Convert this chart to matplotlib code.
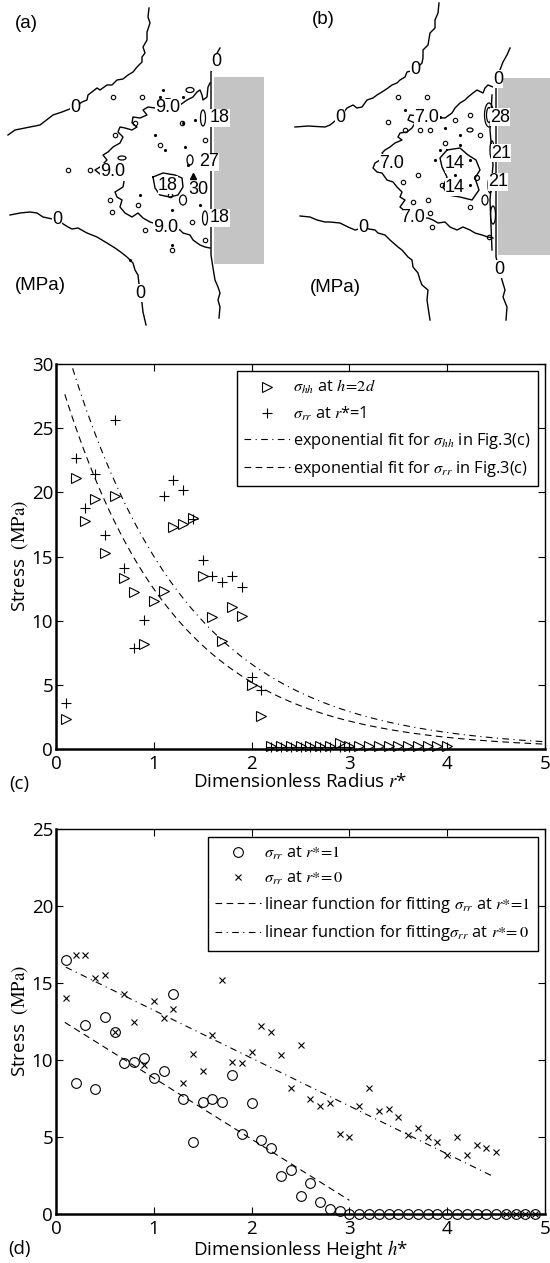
import matplotlib.pyplot as plt
from matplotlib.patches import Rectangle, Ellipse
import numpy as np

plt.rcParams['font.family'] = ['Open Sans', 'DejaVu Sans']
plt.rcParams['mathtext.fontset'] = 'stix'

# ---------------- (a) / (b) contour maps, traced in pixel units ----------------
a_zero_upper = [(8, 135), (15, 130), (30, 127), (40, 125), (53, 115), (62, 112), (75, 107), (82, 102),
                (87, 100), (88, 95), (97, 88), (100, 90), (107, 85), (112, 85), (117, 80), (123, 79),
                (128, 75), (133, 72), (137, 67), (142, 62), (142, 57), (145, 53), (143, 47), (147, 40),
                (147, 32), (150, 23), (148, 17), (149, 8)]
a_zero_lower = [(10, 215), (20, 213), (30, 212), (37, 213), (43, 217), (57, 220), (68, 227), (72, 229),
                (78, 228), (87, 233), (97, 237), (107, 243), (115, 248), (122, 253), (127, 257),
                (133, 263), (135, 270), (138, 275), (140, 293), (142, 303), (143, 312), (146, 325)]
a_wall = [(220, 48), (216, 55), (213, 67), (211, 72), (211, 255), (213, 268), (215, 280), (218, 287),
          (220, 293), (218, 300), (220, 307), (219, 318)]
a_c9 = [(210, 83), (208, 87), (207, 97), (203, 100), (202, 95), (200, 90), (197, 92), (193, 97),
        (187, 100), (180, 105), (168, 108), (155, 108), (148, 107), (143, 110), (147, 115), (140, 118),
        (133, 117), (132, 123), (137, 127), (132, 130), (125, 128), (120, 127), (118, 132), (123, 137),
        (120, 143), (113, 147), (108, 152), (103, 155), (107, 160), (100, 167), (95, 170), (100, 174),
        (113, 172), (125, 176), (123, 187), (115, 192), (117, 197), (122, 200), (120, 207), (125, 213),
        (132, 217), (138, 213), (143, 218), (150, 222), (166, 227), (180, 230), (183, 233), (190, 235),
        (193, 240), (200, 245), (205, 247), (210, 248)]
a_c18 = [(153, 177), (163, 173), (175, 175), (182, 178), (183, 187), (178, 195), (170, 197),
         (160, 195), (155, 188), (153, 177)]
a_ellipses = [(203, 118, 5, 16), (205, 218, 5, 14), (190, 160, 6, 10), (183, 200, 7, 10),
              (168, 100, 6, 3), (190, 90, 8, 5), (122, 158, 8, 4)]
a_isl_x = [113, 142, 135, 115, 205, 110, 138, 192, 145, 170, 68, 90, 172, 205, 182, 160, 112]
a_isl_y = [97, 97, 123, 135, 140, 200, 205, 222, 230, 195, 170, 170, 250, 240, 123, 145, 212]
a_dot_x = [163, 155, 165, 183, 185, 195, 160, 183, 172, 188, 140, 200, 130, 200, 172]
a_dot_y = [90, 135, 150, 123, 147, 120, 97, 97, 245, 165, 195, 205, 260, 188, 210]
a_labels = ['0', '0', '0', '0', '9.0', '9.0', '9.0', '18', '18', '18', '27', '30']
a_lab_x = [75, 57, 140, 216, 168, 113, 166, 220, 220, 168, 209, 198]
a_lab_y = [107, 220, 293, 62, 108, 172, 227, 118, 218, 185, 162, 190]
a_gray = (214, 77, 264, 264)

b_zero_upper = [(295, 127), (308, 126), (325, 127), (330, 125), (340, 117), (347, 108), (353, 105),
                (357, 108), (362, 107), (367, 100), (373, 98), (377, 95), (382, 92), (388, 88),
                (392, 85), (397, 83), (400, 80), (405, 77), (407, 72), (415, 70), (422, 63), (423, 58),
                (423, 50), (428, 45), (430, 33), (435, 28), (435, 20), (438, 13), (439, 3)]
b_zero_lower = [(300, 216), (310, 217), (317, 220), (325, 222), (330, 222), (340, 223), (348, 227),
                (355, 230), (363, 228), (375, 230), (378, 233), (385, 235), (390, 240), (398, 247),
                (402, 250), (408, 257), (412, 260), (413, 267), (418, 273), (420, 280), (422, 285),
                (428, 290), (427, 300), (428, 307), (430, 320)]
b_wall = [(510, 48), (507, 55), (503, 62), (498, 75), (496, 83), (496, 257), (499, 269), (502, 280),
          (505, 290), (503, 297), (507, 307), (506, 320)]
b_wall2 = [(492, 95), (490, 130), (493, 165), (490, 200), (492, 250)]
b_c7 = [(493, 87), (488, 85), (485, 88), (483, 93), (477, 90), (473, 93), (468, 97), (465, 100),
        (460, 103), (455, 108), (452, 113), (445, 118), (427, 117), (410, 115), (408, 120), (415, 123),
        (412, 128), (407, 132), (400, 133), (398, 137), (402, 140), (395, 143), (390, 147), (385, 150),
        (382, 153), (385, 157), (380, 160), (375, 163), (373, 168), (377, 172), (382, 173), (387, 180),
        (393, 182), (397, 187), (402, 192), (400, 197), (405, 200), (400, 207), (413, 218), (428, 218),
        (433, 220), (438, 223), (445, 222), (450, 227), (457, 230), (463, 227), (470, 230), (475, 233),
        (482, 235), (488, 237), (493, 238)]
b_c14 = [(447, 150), (460, 148), (468, 155), (476, 160), (480, 170), (475, 178), (479, 190),
         (472, 200), (460, 197), (448, 195), (443, 187), (447, 177), (442, 167), (440, 158), (447, 150)]
b_ellipses = [(489, 115, 9, 24), (489, 115, 5, 15), (492, 150, 4, 18), (490, 185, 4, 16),
              (493, 215, 5, 18), (477, 178, 5, 5), (470, 130, 6, 4), (485, 200, 6, 10)]
b_isl_x = [398, 427, 388, 405, 420, 430, 455, 470, 480, 445, 418, 403, 413, 428, 430, 432, 489, 442, 470]
b_isl_y = [97, 97, 122, 130, 130, 130, 120, 115, 135, 143, 175, 182, 202, 200, 213, 227, 237, 185, 207]
b_dot_x = [405, 415, 430, 440, 445, 460, 440, 460, 470, 455, 470, 435]
b_dot_y = [110, 110, 112, 117, 128, 135, 150, 145, 160, 175, 185, 160]
b_labels = ['0', '0', '0', '0', '0', '7.0', '7.0', '7.0', '14', '14', '28', '21', '21']
b_lab_x = [340, 415, 363, 498, 499, 427, 392, 413, 455, 455, 500, 501, 498]
b_lab_y = [117, 70, 228, 79, 269, 117, 163, 218, 164, 187, 117, 153, 182]
b_gray = (498, 78, 552, 255)

# ---------------- (c) data ----------------
r_hh = [0.1, 0.2, 0.3, 0.4, 0.5, 0.6, 0.7, 0.8, 0.9, 1.0, 1.1, 1.2, 1.3, 1.4, 1.5, 1.6, 1.7, 1.8,
        1.9, 2.0, 2.1, 2.2, 2.3, 2.4, 2.5, 2.6, 2.7, 2.8, 2.9, 3.0, 3.1, 3.2, 3.3, 3.4, 3.5, 3.6,
        3.7, 3.8, 3.9, 4.0]
s_hh = [2.3, 21.1, 17.8, 19.5, 15.3, 19.7, 13.3, 12.2, 8.2, 11.5, 12.3, 17.3, 17.5, 18.0, 13.5,
        10.3, 8.4, 11.1, 10.4, 5.0, 2.6, 0.2, 0.2, 0.2, 0.2, 0.2, 0.2, 0.2, 0.5, 0.2, 0.2, 0.2,
        0.2, 0.2, 0.2, 0.2, 0.2, 0.2, 0.2, 0.2]
r_rr = [0.1, 0.2, 0.3, 0.4, 0.5, 0.6, 0.7, 0.8, 0.9, 1.1, 1.2, 1.3, 1.4, 1.5, 1.6, 1.7, 1.8, 1.9,
        2.0, 2.1, 2.2, 2.3, 2.4, 2.5, 2.6, 2.7, 2.8, 2.9, 3.0]
s_rr = [3.6, 22.7, 18.8, 21.4, 16.7, 25.6, 14.1, 7.85, 10.05, 19.7, 21.0, 20.2, 17.9, 14.7, 13.5,
        13.0, 13.5, 12.6, 5.6, 4.6, 0.15, 0.15, 0.15, 0.15, 0.15, 0.15, 0.15, 0.15, 0.15]
exp_hh = (34.1, 0.82, 0.17)   # A, b, start of fit curve
exp_rr = (29.9, 0.874, 0.09)

# ---------------- (d) data ----------------
h_star = [round(0.1 * i, 1) for i in range(1, 50)]
s_r1 = [16.5, 8.5, 12.3, 8.1, 12.8, 11.8, 9.8, 9.9, 10.1, 8.8, 9.3, 14.3, 7.5, 4.7, 7.3, 7.5, 7.3,
        9.0, 5.2, 7.2, 4.8, 4.3, 2.5, 2.85, 1.2, 2.0, 0.76, 0.3, 0.2] + [0.0] * 20
s_r0 = [14.0, 16.8, 16.8, 15.3, 15.5, 11.8, 14.3, 12.5, 9.7, 13.8,
        12.7, 13.3, 8.5, 10.4, 9.3, 11.6, 15.2, 9.9, 9.8, 10.5,
        12.2, 11.8, 10.3, 8.2, 11.0, 7.5, 7.0, 7.2, 5.2, 5.0,
        7.0, 8.2, 6.7, 6.8, 6.3, 5.1, 5.6, 5.0, 4.7, 3.8,
        5.0, 3.8, 4.5, 4.3, 4.0, 0.0, 0.0, 0.0, 0.0]
lin_r1 = (12.8, -3.97, 0.09, 3.0)   # intercept, slope, h range
lin_r0 = (16.34, -3.11, 0.1, 4.45)

fig = plt.figure(figsize=(5.5, 12.63), dpi=100)


def draw_map(ax, xlim, lines, closed, ellipses, isl, dots, labels, gray, tag, tag_xy, mpa_xy):
    ax.set_xlim(*xlim)
    ax.set_ylim(330, 0)
    ax.axis('off')
    x0, y0, x1, y1 = gray
    ax.add_patch(Rectangle((x0, y0), x1 - x0, y1 - y0, fc='#c4c4c4', ec='none', zorder=1))
    for ln in lines + closed:
        xs, ys = zip(*ln)
        ax.plot(xs, ys, color='k', lw=1.0, zorder=2)
    for (ex, ey, ew, eh) in ellipses:
        ax.add_patch(Ellipse((ex, ey), ew, eh, fc='none', ec='k', lw=0.9, zorder=2))
    ax.plot(isl[0], isl[1], 'o', ms=3.2, mfc='none', mec='k', mew=0.8, zorder=2)
    ax.plot(dots[0], dots[1], '.', ms=2.5, color='k', zorder=2)
    for t, lx, ly in zip(*labels):
        ax.text(lx, ly, t, fontsize=13, family='Liberation Sans', ha='center', va='center',
                zorder=4, bbox=dict(fc='white', ec='none', pad=0.2))
    ax.text(tag_xy[0], tag_xy[1], tag, fontsize=13.5, family='Liberation Sans', ha='center', va='center')
    ax.text(mpa_xy[0], mpa_xy[1], '(MPa)', fontsize=13.5, family='Liberation Sans', ha='center',
            va='center')


axa = fig.add_axes([0, 1 - 330 / 1263, 0.5, 330 / 1263])
draw_map(axa, (0, 275), [a_zero_upper, a_zero_lower, a_wall, a_c9], [a_c18], a_ellipses,
         (a_isl_x, a_isl_y), (a_dot_x, a_dot_y), (a_labels, a_lab_x, a_lab_y), a_gray,
         '(a)', (26, 23), (40, 286))
axa.plot([193], [176], marker='^', color='k', ms=4, zorder=3)

axb = fig.add_axes([0.5, 1 - 330 / 1263, 0.5, 330 / 1263])
draw_map(axb, (275, 550), [b_zero_upper, b_zero_lower, b_wall, b_wall2, b_c7], [b_c14], b_ellipses,
         (b_isl_x, b_isl_y), (b_dot_x, b_dot_y), (b_labels, b_lab_x, b_lab_y), b_gray,
         '(b)', (323, 20), (335, 287))


def style_axes(ax, ymax, ystep):
    ax.set_xlim(0, 5)
    ax.set_ylim(0, ymax)
    ax.set_xticks(range(0, 6))
    ax.set_yticks(range(0, ymax + 1, ystep))
    ax.tick_params(direction='in', top=True, right=True, length=5, width=0.8,
                   labelsize=13.5, pad=2)
    ax.tick_params(axis='x', pad=4)
    for s in ['left', 'bottom']:
        ax.spines[s].set_linewidth(1.8)
    for s in ['top', 'right']:
        ax.spines[s].set_linewidth(1.0)
    ax.set_ylabel(r'Stress  $\mathrm{(MPa)}$', fontsize=13.5, labelpad=1)


def add_legend(ax, top):
    leg = ax.legend(loc='upper right', bbox_to_anchor=(0.9857, top), borderaxespad=0,
                    fontsize=11.8, handlelength=2.8, labelspacing=0.5, handletextpad=0.2,
                    fancybox=False, framealpha=1, edgecolor='k', borderpad=0.45)
    leg.get_frame().set_linewidth(1.0)


# ---------------- (c) ----------------
axc = fig.add_axes([56 / 550, 1 - 749 / 1263, 489 / 550, 385 / 1263])
axc.plot(r_hh, s_hh, ls='none', marker='>', ms=7.5, mfc='none', mec='k', mew=0.8, clip_on=False,
         label=r'$\sigma_{hh}$ at $h\!=\!2d$')
axc.plot(r_rr, s_rr, ls='none', marker='+', ms=7, color='k', mew=0.8, clip_on=False,
         label=r'$\sigma_{rr}$ at $r$*=1')
xs = np.linspace(exp_hh[2], 5, 200)
axc.plot(xs, exp_hh[0] * np.exp(-exp_hh[1] * xs), color='k', lw=0.8, ls=(0, (6, 4, 1, 4)),
         label=r'exponential fit for $\sigma_{hh}$ in Fig.3(c)')
xs = np.linspace(exp_rr[2], 5, 200)
axc.plot(xs, exp_rr[0] * np.exp(-exp_rr[1] * xs), color='k', lw=0.8, ls=(0, (6, 4)),
         label=r'exponential fit for $\sigma_{rr}$ in Fig.3(c)')
style_axes(axc, 30, 5)
axc.set_xlabel(r'Dimensionless Radius $r$*', fontsize=13.5, labelpad=0)
axc.text(-0.075, -0.09, '(c)', transform=axc.transAxes, fontsize=13.5, ha='center', va='center')
add_legend(axc, 0.982)

# ---------------- (d) ----------------
axd = fig.add_axes([56 / 550, 1 - 1214 / 1263, 489 / 550, 385 / 1263])
axd.plot(h_star, s_r1, ls='none', marker='o', ms=7, mfc='none', mec='k', mew=0.8, clip_on=False,
         label=r'$\sigma_{rr}$ at $r\mathrm{*}\!=\!1$')
axd.plot(h_star, s_r0, ls='none', marker='x', ms=4.5, color='k', mew=0.8, clip_on=False,
         label=r'$\sigma_{rr}$ at $r\mathrm{*}\!=0$')
xs = np.linspace(lin_r1[2], lin_r1[3], 50)
axd.plot(xs, lin_r1[0] + lin_r1[1] * xs, color='k', lw=0.8, ls=(0, (6, 4)),
         label=r'linear function for fitting $\sigma_{rr}$ at $r\mathrm{*}\!=\!1$')
xs = np.linspace(lin_r0[2], lin_r0[3], 50)
axd.plot(xs, lin_r0[0] + lin_r0[1] * xs, color='k', lw=0.8, ls=(0, (6, 4, 1, 4)),
         label=r'linear function for fitting$\sigma_{rr}$ at $r\mathrm{*}\!=0$')
style_axes(axd, 25, 5)
axd.set_xlabel(r'Dimensionless Height $h$*', fontsize=13.5, labelpad=0)
axd.text(-0.075, -0.09, '(d)', transform=axd.transAxes, fontsize=13.5, ha='center', va='center')
add_legend(axd, 0.979)

fig.savefig('out.png', dpi=100)
